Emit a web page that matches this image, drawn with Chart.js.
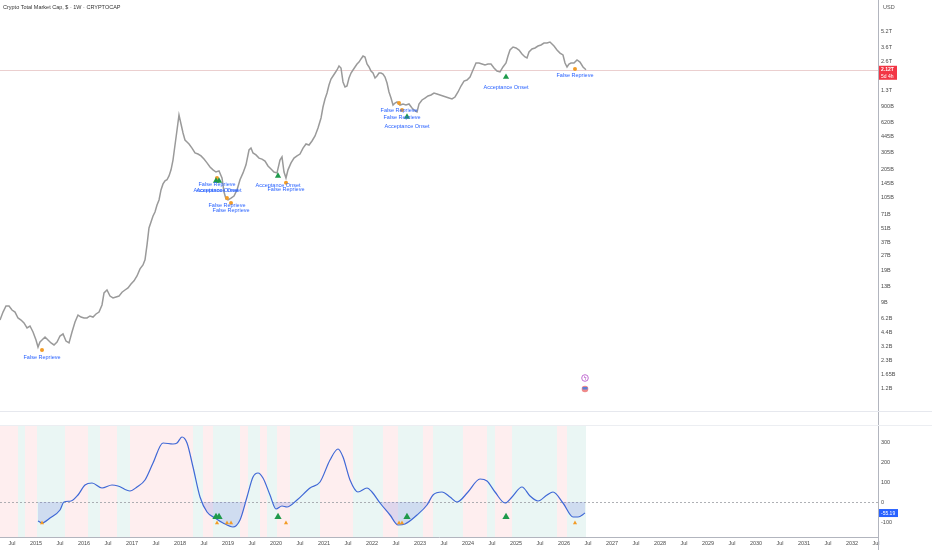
<!DOCTYPE html>
<html><head><meta charset="utf-8">
<script src="https://cdn.jsdelivr.net/npm/chart.js@4.4.1/dist/chart.umd.min.js"></script>
<style>
html,body{margin:0;padding:0;background:#fff;width:932px;height:550px;overflow:hidden;}
#wrap{position:relative;width:932px;height:550px;}
canvas{position:absolute;left:0;}
#c1{top:0;} #c2{top:412px;}
</style></head><body>
<div id="wrap">
<canvas id="c1" width="932" height="412"></canvas>
<canvas id="c2" width="932" height="138"></canvas>
</div>
<script>
// ---------- DATA ----------
const titleText = 'Crypto Total Market Cap, $ · 1W · CRYPTOCAP';
const currencyText = 'USD';

// weekly-ish closes, market cap in billions USD (decimal year)
const priceDates = [
2014.250,2014.313,2014.375,2014.438,2014.500,2014.563,2014.625,2014.688,2014.750,2014.813,2014.875,2014.938,
2015.000,2015.042,2015.083,2015.125,2015.188,2015.250,2015.313,2015.375,2015.438,2015.500,2015.563,2015.625,2015.688,2015.750,2015.813,2015.875,2015.938,
2016.000,2016.063,2016.125,2016.188,2016.250,2016.313,2016.375,2016.417,2016.479,2016.542,2016.604,2016.667,2016.729,2016.792,2016.854,2016.917,2016.979,
2017.042,2017.104,2017.167,2017.229,2017.271,2017.313,2017.354,2017.396,2017.438,2017.479,2017.521,2017.563,2017.604,2017.646,2017.688,2017.729,2017.771,2017.813,2017.854,2017.896,2017.938,2017.979,
2018.021,2018.063,2018.104,2018.146,2018.188,2018.250,2018.313,2018.375,2018.438,2018.500,2018.563,2018.625,2018.688,2018.750,2018.813,2018.875,2018.917,2018.958,
2019.000,2019.063,2019.125,2019.188,2019.250,2019.313,2019.375,2019.438,2019.479,2019.521,2019.583,2019.646,2019.708,2019.771,2019.833,2019.896,2019.958,
2020.021,2020.083,2020.125,2020.167,2020.208,2020.250,2020.313,2020.375,2020.438,2020.500,2020.563,2020.625,2020.688,2020.750,2020.813,2020.875,2020.938,2020.979,
2021.021,2021.063,2021.104,2021.146,2021.188,2021.229,2021.271,2021.313,2021.354,2021.396,2021.438,2021.479,2021.521,2021.563,2021.604,2021.646,2021.688,2021.729,2021.771,2021.813,2021.854,2021.896,2021.938,2021.979,
2022.021,2022.063,2022.104,2022.146,2022.188,2022.229,2022.271,2022.313,2022.354,2022.396,2022.438,2022.479,2022.521,2022.583,2022.646,2022.708,2022.771,2022.833,2022.896,2022.938,2022.979,
2023.042,2023.104,2023.167,2023.229,2023.292,2023.354,2023.417,2023.479,2023.542,2023.604,2023.667,2023.729,2023.792,2023.854,2023.917,2023.979,
2024.042,2024.104,2024.167,2024.229,2024.292,2024.354,2024.417,2024.479,2024.542,2024.604,2024.667,2024.729,2024.792,2024.833,2024.875,2024.938,
2025.000,2025.063,2025.125,2025.188,2025.229,2025.271,2025.333,2025.396,2025.458,2025.521,2025.583,2025.646,2025.708,2025.750,2025.792,2025.854,2025.917,2025.979,
2026.021,2026.063,2026.104,2026.146,2026.208,2026.271,2026.333,2026.396,2026.458];
const priceValues = [
5.93,7.15,8.24,8.24,7.5,7.15,6.22,5.93,5.53,4.92,5.15,4.48,
3.71,3.14,3.54,3.71,3.98,3.71,3.46,3.3,3.54,4.07,4.27,3.62,3.46,4.48,5.66,6.67,6.36,
6.22,6.22,6.52,6.36,6.83,7.15,8.44,11.2,12,10.4,9.95,10.2,10.4,11.4,12,12.6,13.8,
14.9,16.7,19.7,21.6,24.4,34.6,51.5,59.3,68.3,75,88.4,99.5,126,145,156,160,175,202,254,362,515,733,
593,480,407,389,371,337,300,293,280,260,238,216,202,192,197,167,120,102,
99.5,104,109,126,160,188,227,322,337,300,287,266,260,248,221,206,192,
188,254,274,192,167,202,238,266,280,293,337,371,362,398,448,540,683,884,
1067,1228,1483,1707,1832,1964,2109,2317,2210,1592,1415,1448,1747,1964,2109,2264,2429,2542,2733,2927,2864,2429,2264,2058,
1964,1747,1832,1964,1964,1920,1788,1554,1258,1092,926,971,995,926,949,926,949,864,805,786,949,
1043,1092,1145,1172,1228,1200,1172,1145,1118,1092,1067,1118,1258,1448,1628,1667,
1788,2109,2484,2484,2429,2372,2429,2429,2210,2058,2013,2264,2484,2927,3371,3614,
3540,3371,3069,2864,2797,3217,3458,3540,3704,3797,3974,3974,4068,3883,3704,3371,3141,3000,
2484,2264,2429,2484,2484,2667,2542,2264,2120];
const lastPriceLabel = '2.12T';
const countdownLabel = '5d 4h';

const priceTickValues = [5200,3600,2600,1300,900,620,445,305,205,145,105,71,51,37,27,19,13,9,6.2,4.4,3.2,2.3,1.65,1.2];
const priceTickLabels = ['5.2T','3.6T','2.6T','1.3T','900B','620B','445B','305B','205B','145B','105B','71B','51B','37B','27B','19B','13B','9B','6.2B','4.4B','3.2B','2.3B','1.65B','1.2B'];

// signals
const acceptLabel = 'Acceptance Onset';
const reprieveLabel = 'False Reprieve';
const acceptDates = [2018.750, 2018.813, 2020.042, 2022.729, 2024.792];
const acceptPriceValues = [156, 156, 175, 700, 1788];
const acceptOscValues = [-75, -75, -75, -75, -75];
const reprieveDates = [2015.125, 2018.771, 2018.979, 2019.063, 2020.208, 2022.563, 2022.625, 2026.229];
const reprievePriceValues = [2.93, 167, 104, 92.6, 149, 971, 824, 2160];
const reprieveOscValues = [-105, -105, -105, -105, -105, -105, -105, -105];

// oscillator
const oscDates = [2015.042,2015.125,2015.292,2015.500,2015.583,2015.729,2015.875,2016.021,2016.167,2016.375,2016.583,2016.708,2016.958,2017.104,2017.271,2017.438,2017.646,2017.854,2017.938,2018.042,2018.146,2018.271,2018.417,2018.563,2018.729,2018.896,2019.104,2019.250,2019.396,2019.521,2019.625,2019.729,2019.875,2020.000,2020.125,2020.229,2020.438,2020.708,2020.917,2021.125,2021.292,2021.396,2021.542,2021.708,2021.896,2022.000,2022.167,2022.375,2022.542,2022.688,2022.938,2023.146,2023.271,2023.458,2023.625,2023.771,2024.000,2024.250,2024.396,2024.563,2024.771,2024.917,2025.125,2025.292,2025.458,2025.646,2025.771,2025.979,2026.188,2026.292,2026.438];
const oscValues = [-95,-105,-80,-40,0,5,35,85,95,70,85,80,55,75,110,195,295,290,295,325,295,175,25,-50,-80,-105,-125,-90,25,125,145,120,35,-35,-20,-25,10,70,100,210,265,225,110,50,70,50,-5,-65,-115,-110,-65,-15,35,50,25,0,50,115,105,50,-5,25,75,30,5,35,50,-5,-75,-75,-55.19];
const oscLastLabel = '-55.19';
const oscTickValues = [300, 200, 100, 0, -100];
const oscTickLabels = ['300', '200', '100', '0', '-100'];

// regime background bands (edges in decimal years, state per band)
const bandEdges = [2014.25,2014.625,2014.771,2015.021,2015.604,2016.083,2016.333,2016.688,2016.958,2018.271,2018.479,2018.688,2019.25,2019.417,2019.667,2019.813,2020.021,2020.292,2020.917,2021.604,2022.229,2022.542,2023.063,2023.271,2023.896,2024.396,2024.563,2024.917,2025.854,2026.063,2026.458];
const bandStates = ['r','g','r','g','r','g','r','g','r','g','r','g','r','g','r','g','r','g','r','g','r','g','r','g','r','g','r','g','r','g'];

// time axis ticks
const xTickValues = [2014.5,2015,2015.5,2016,2016.5,2017,2017.5,2018,2018.5,2019,2019.5,2020,2020.5,2021,2021.5,2022,2022.5,2023,2023.5,2024,2024.5,2025,2025.5,2026,2026.5,2027,2027.5,2028,2028.5,2029,2029.5,2030,2030.5,2031,2031.5,2032,2032.5];
const xTickLabels = ['Jul','2015','Jul','2016','Jul','2017','Jul','2018','Jul','2019','Jul','2020','Jul','2021','Jul','2022','Jul','2023','Jul','2024','Jul','2025','Jul','2026','Jul','2027','Jul','2028','Jul','2029','Jul','2030','Jul','2031','Jul','2032','Jul'];

// ---------- STYLE ----------
const X_MIN = 2014.25, X_MAX = 2032.5417;
const Y_MIN = 0.683, Y_MAX = 10921;
const AXIS_W = 54;
const FONT = "'Liberation Sans', Arial, sans-serif";
const tickFont = {family: FONT, size: 5.5};
const AXIS_LINE = '#b2b5be';
const LABEL_BLUE = '#2962ff';
const GREEN = '#1f9a4b';
const ORANGE = '#f39c26';

function pts(xs, ys){ return xs.map((d,i)=>({x:d, y:ys[i]})); }
function fitNoPad(s){ s.paddingTop = 0; s.paddingBottom = 0; s.paddingLeft = 0; s.paddingRight = 0; }

const pricePlugin = {
  id: 'pricePlugin',
  beforeDatasetsDraw(chart){
    const {ctx, chartArea:a, scales:{y}} = chart;
    const py = Math.round(y.getPixelForValue(priceValues[priceValues.length-1])) + 0.5;
    ctx.save();
    ctx.strokeStyle = 'rgba(230,195,195,0.8)';
    ctx.lineWidth = 1;
    ctx.beginPath(); ctx.moveTo(a.left, py); ctx.lineTo(a.right, py); ctx.stroke();
    ctx.restore();
  },
  afterDatasetsDraw(chart){
    const {ctx, scales:{x, y}} = chart;
    ctx.save();
    ctx.font = `5.5px ${FONT}`;
    ctx.fillStyle = LABEL_BLUE;
    ctx.textAlign = 'center';
    ctx.textBaseline = 'middle';
    reprieveDates.forEach((d,i)=>{
      ctx.fillText(reprieveLabel, x.getPixelForValue(d), y.getPixelForValue(reprievePriceValues[i]) + 7);
    });
    acceptDates.forEach((d,i)=>{
      ctx.fillText(acceptLabel, x.getPixelForValue(d), y.getPixelForValue(acceptPriceValues[i]) + 10);
    });
    ctx.restore();
  },
  afterDraw(chart){
    const {ctx, chartArea:a, scales:{y}} = chart;
    const H = chart.height;
    ctx.save();
    ctx.font = `5.5px ${FONT}`;
    ctx.fillStyle = '#333';
    ctx.textBaseline = 'middle';
    ctx.textAlign = 'left';
    ctx.fillText(titleText, 3, 7.5);
    ctx.fillStyle = '#555';
    ctx.fillText(currencyText, a.right + 5, 7.5);
    ctx.strokeStyle = AXIS_LINE; ctx.lineWidth = 1;
    ctx.beginPath(); ctx.moveTo(a.right + 0.5, 0); ctx.lineTo(a.right + 0.5, H); ctx.stroke();
    ctx.strokeStyle = '#e6e8ee';
    ctx.beginPath(); ctx.moveTo(0, H - 0.5); ctx.lineTo(chart.width, H - 0.5); ctx.stroke();
    const py = y.getPixelForValue(priceValues[priceValues.length-1]);
    ctx.fillStyle = '#f23645';
    ctx.fillRect(a.right + 1, py - 4, 18, 14);
    ctx.fillStyle = '#fff';
    ctx.font = `bold 5px ${FONT}`;
    ctx.fillText(lastPriceLabel, a.right + 3, py);
    ctx.font = `5px ${FONT}`;
    ctx.fillText(countdownLabel, a.right + 3, py + 6.5);
    ctx.lineWidth = 0.8;
    ctx.strokeStyle = '#b24bc8';
    ctx.fillStyle = '#fff';
    ctx.beginPath(); ctx.arc(585, 378, 3.3, 0, Math.PI*2); ctx.fill(); ctx.stroke();
    ctx.fillStyle = '#b24bc8';
    ctx.font = `5px ${FONT}`; ctx.textAlign = 'center';
    ctx.fillText('ϟ', 585, 378.3);
    ctx.fillStyle = '#ef8a8a';
    ctx.beginPath(); ctx.arc(585, 389, 3.3, 0, Math.PI*2); ctx.fill();
    ctx.fillStyle = '#5b7fd6';
    ctx.fillRect(582.5, 387, 5, 2.5);
    ctx.restore();
  }
};

const oscPlugin = {
  id: 'oscPlugin',
  beforeDatasetsDraw(chart){
    const {ctx, chartArea:a, scales:{x, y}} = chart;
    ctx.save();
    for (let i = 0; i < bandStates.length; i++){
      const x0 = x.getPixelForValue(bandEdges[i]);
      const x1 = x.getPixelForValue(bandEdges[i+1]);
      ctx.fillStyle = bandStates[i] === 'r' ? 'rgba(242,54,69,0.085)' : 'rgba(8,153,129,0.085)';
      ctx.fillRect(x0, a.top, x1 - x0, a.bottom - a.top);
    }
    const zy = Math.round(y.getPixelForValue(0)) + 0.5;
    ctx.strokeStyle = '#9a9ca3';
    ctx.lineWidth = 0.8;
    ctx.setLineDash([2, 2]);
    ctx.beginPath(); ctx.moveTo(a.left, zy); ctx.lineTo(a.right, zy); ctx.stroke();
    ctx.restore();
  },
  afterDraw(chart){
    const {ctx, chartArea:a, scales:{y}} = chart;
    ctx.save();
    ctx.strokeStyle = AXIS_LINE; ctx.lineWidth = 1;
    ctx.beginPath(); ctx.moveTo(a.right + 0.5, 0); ctx.lineTo(a.right + 0.5, chart.height); ctx.stroke();
    ctx.strokeStyle = '#eceef2';
    ctx.beginPath(); ctx.moveTo(0, a.top - 0.5); ctx.lineTo(chart.width, a.top - 0.5); ctx.stroke();
    const py = y.getPixelForValue(oscValues[oscValues.length-1]);
    ctx.fillStyle = '#2962ff';
    ctx.fillRect(a.right + 1, py - 4, 19, 8);
    ctx.fillStyle = '#fff';
    ctx.font = `5px ${FONT}`;
    ctx.textBaseline = 'middle';
    ctx.textAlign = 'left';
    ctx.fillText(oscLastLabel, a.right + 3, py + 0.3);
    ctx.restore();
  }
};

const common = {
  responsive: false,
  animation: false,
  events: [],
  plugins: {legend: {display: false}, tooltip: {enabled: false}}
};

new Chart(document.getElementById('c1'), {
  type: 'line',
  data: {datasets: [
    {data: pts(priceDates, priceValues), borderColor: '#9a9a9a', borderWidth: 1.5, pointRadius: 0, tension: 0, order: 3},
    {type: 'scatter', data: pts(acceptDates, acceptPriceValues), pointStyle: 'triangle', pointRadius: 3.6, backgroundColor: GREEN, borderColor: GREEN, borderWidth: 0, order: 1},
    {type: 'scatter', data: pts(reprieveDates, reprievePriceValues), pointStyle: 'circle', pointRadius: 2, backgroundColor: ORANGE, borderColor: ORANGE, borderWidth: 0, order: 2}
  ]},
  options: Object.assign({}, common, {
    layout: {padding: 0, autoPadding: false},
    scales: {
      x: {type: 'linear', min: X_MIN, max: X_MAX, display: false},
      y: {type: 'logarithmic', position: 'right', min: Y_MIN, max: Y_MAX, bounds: 'data',
        afterFit(s){ s.width = AXIS_W; fitNoPad(s); },
        afterBuildTicks(s){ s.ticks = priceTickValues.map(v => ({value: v})); s.min = Y_MIN; s.max = Y_MAX; },
        ticks: {callback: (v, i) => priceTickLabels[i], font: tickFont, color: '#4a4a4a', padding: 3, autoSkip: false, maxRotation: 0},
        grid: {display: false, drawTicks: false},
        border: {display: false}
      }
    }
  }),
  plugins: [pricePlugin]
});

new Chart(document.getElementById('c2'), {
  type: 'line',
  data: {datasets: [
    {data: pts(oscDates, oscValues), borderColor: '#3f68d6', borderWidth: 1.2, pointRadius: 0,
     cubicInterpolationMode: 'monotone',
     fill: {target: {value: 0}, above: 'rgba(0,0,0,0)', below: 'rgba(100,115,225,0.2)'}, order: 3},
    {type: 'scatter', data: pts(acceptDates, acceptOscValues), pointStyle: 'triangle', pointRadius: 4.2, backgroundColor: GREEN, borderColor: GREEN, borderWidth: 0, order: 1},
    {type: 'scatter', data: pts(reprieveDates, reprieveOscValues), pointStyle: 'triangle', pointRadius: 2.4, backgroundColor: ORANGE, borderColor: ORANGE, borderWidth: 0, order: 2}
  ]},
  options: Object.assign({}, common, {
    layout: {padding: {top: 14, left: 0, right: 0, bottom: 0}, autoPadding: false},
    scales: {
      x: {type: 'linear', min: X_MIN, max: X_MAX, position: 'bottom',
        afterFit(s){ s.height = 13; fitNoPad(s); },
        afterBuildTicks(s){ s.ticks = xTickValues.map(v => ({value: v})); },
        ticks: {callback: (v, i) => xTickLabels[i], font: tickFont, color: '#4a4a4a', padding: 3, autoSkip: false, maxRotation: 0, minRotation: 0},
        grid: {display: false, drawTicks: false},
        border: {display: true, color: AXIS_LINE, width: 1}
      },
      y: {type: 'linear', position: 'right', min: -175, max: 380,
        afterFit(s){ s.width = AXIS_W; fitNoPad(s); },
        afterBuildTicks(s){ s.ticks = oscTickValues.map(v => ({value: v})); },
        ticks: {callback: (v, i) => oscTickLabels[i], font: tickFont, color: '#4a4a4a', padding: 3, autoSkip: false},
        grid: {display: false, drawTicks: false},
        border: {display: false}
      }
    }
  }),
  plugins: [oscPlugin]
});
</script>
</body></html>
